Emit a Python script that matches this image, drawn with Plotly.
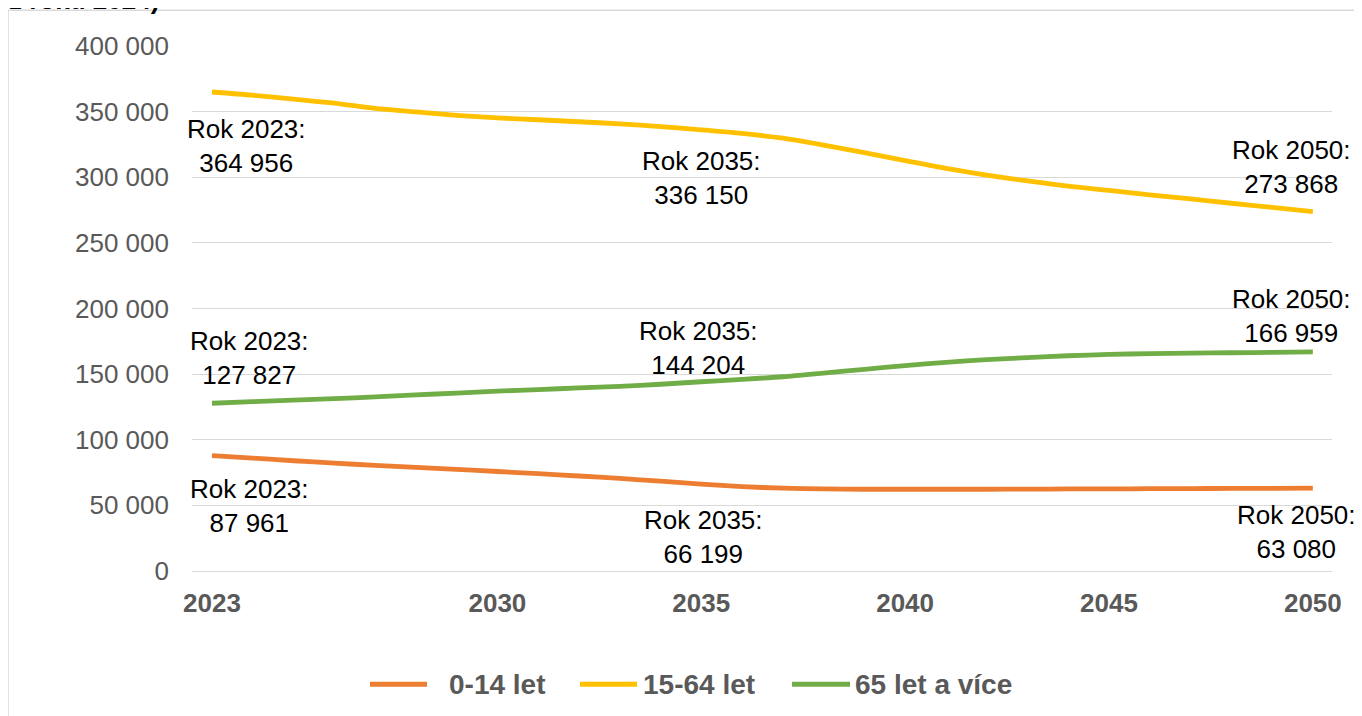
import plotly.graph_objects as go

years = list(range(2023, 2051))

age_0_14 = [87961, 86000, 84000, 82200, 80500, 79000, 77400, 75800, 74200, 72400,
            70500, 68400, 66199, 64300, 63100, 62500, 62300, 62300, 62300, 62300,
            62400, 62500, 62600, 62700, 62800, 62900, 63000, 63080]
age_15_64 = [364956, 362500, 359500, 356500, 352500, 349800, 347200, 345200, 343800, 342300,
             340700, 338600, 336150, 333400, 329800, 324500, 318700, 312700, 306800, 301700,
             297200, 293200, 290000, 286600, 283500, 280200, 277000, 273868]
age_65_plus = [127827, 129000, 130200, 131300, 132700, 134200, 135500, 137000, 138200, 139500,
               140600, 142300, 144204, 146000, 148000, 150800, 153700, 156500, 159000, 161000,
               162600, 164000, 165000, 165600, 166000, 166300, 166600, 166959]

series_names = ["0-14 let", "15-64 let", "65 let a více"]
series_colors = ["#ED7D31", "#FFC000", "#70AD47"]
series_values = [age_0_14, age_15_64, age_65_plus]

x_ticks = [2023, 2030, 2035, 2040, 2045, 2050]
y_ticks = [0, 50000, 100000, 150000, 200000, 250000, 300000, 350000, 400000]
label_years = [2023, 2035, 2050]

# label offsets (xshift, yshift) per series per labelled year
label_offsets = [
    [(38, -50), (2, -53), (-16, -44)],
    [(35, -54), (0, -48), (-21, 45)],
    [(38, 45), (-3, 34), (-21, 36)],
]

FONT = "Liberation Sans, Arial, sans-serif"

# geometry helpers (reference page pixels -> paper coords of the plot area)
PX0, PW = 192.0, 1140.0
PY0, PH = 570.7, 525.0
def px(x):
    return (x - PX0) / PW
def py(y):
    return (PY0 - y) / PH

fig = go.Figure()
for name, color, vals in zip(series_names, series_colors, series_values):
    fig.add_trace(go.Scatter(
        x=years, y=vals, name=name, mode="lines",
        line=dict(color=color, width=4.8, shape="spline", smoothing=0.8),
        showlegend=False,
    ))

def fmt(v):
    return f"{v:,}".replace(",", " ")

annotations = []
for vals, offs in zip(series_values, label_offsets):
    for yr, (dx, dy) in zip(label_years, offs):
        v = vals[years.index(yr)]
        annotations.append(dict(
            x=yr, y=v, xref="x", yref="y",
            text=f"Rok {yr}:<br>{fmt(v)}",
            showarrow=False, xshift=dx, yshift=dy,
            xanchor="center", yanchor="middle", align="center",
            font=dict(family=FONT, size=26, color="#000000"),
        ))

# clipped title remnant at the very top
annotations.append(dict(
    x=px(7), y=py(17), xref="paper", yref="paper",
    text="<b>z roku 2024)</b>", showarrow=False,
    xanchor="left", yanchor="bottom",
    font=dict(family=FONT, size=26, color="#000000"),
))

# legend drawn as line samples + labels
legend_y = 684
legend_samples = [(370, 427), (580, 637), (792, 850)]
legend_text_x = [447, 641, 853]
shapes = [dict(
    type="rect", xref="paper", yref="paper",
    x0=px(8), x1=1.5, y0=-1, y1=py(10),
    line=dict(color="#D9D9D9", width=1.5), fillcolor="rgba(0,0,0,0)", layer="below",
)]
for name, color, (x0, x1), tx in zip(series_names, series_colors, legend_samples, legend_text_x):
    shapes.append(dict(
        type="line", xref="paper", yref="paper",
        x0=px(x0), x1=px(x1), y0=py(legend_y), y1=py(legend_y),
        line=dict(color=color, width=5),
    ))
    annotations.append(dict(
        x=px(tx), y=py(legend_y), xref="paper", yref="paper",
        text=f"<b>{name}</b>", showarrow=False,
        xanchor="left", yanchor="middle",
        font=dict(family=FONT, size=28, color="#595959"),
    ))

fig.update_layout(
    width=1354, height=708,
    margin=dict(l=184, r=30, t=37.7, b=145.3),
    paper_bgcolor="white", plot_bgcolor="white",
    separators=", ",
    font=dict(family=FONT, size=26, color="#595959"),
    showlegend=False,
    annotations=annotations,
    shapes=shapes,
)

fig.update_xaxes(
    range=[2022.51, 2050.47], tickvals=x_ticks, ticktext=[str(t) for t in x_ticks],
    showgrid=False, zeroline=False, showline=False, ticks="",
    tickfont=dict(family=FONT, size=26, color="#595959", weight="bold"),
    ticklabelstandoff=14,
)
fig.update_yaxes(
    range=[0, 400000], tickvals=y_ticks, tickformat=",d",
    showgrid=True, gridcolor="#D9D9D9", gridwidth=1.3,
    zeroline=True, zerolinecolor="#D9D9D9", zerolinewidth=1.3,
    showline=False, ticks="",
    tickfont=dict(family=FONT, size=26, color="#595959"),
    ticklabelstandoff=22,
)

fig.write_html("out.html")
